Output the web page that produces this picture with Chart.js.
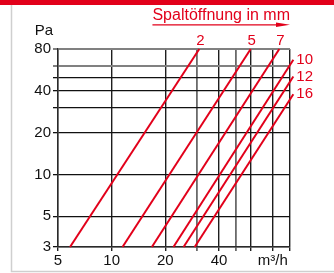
<!DOCTYPE html>
<html><head><meta charset="utf-8">
<script src="https://cdn.jsdelivr.net/npm/chart.js@4"></script>
<style>html,body{margin:0;padding:0;background:#fff;overflow:hidden}canvas{display:block}</style>
</head><body>
<canvas id="c" width="334" height="273"></canvas>
<script>
// ---- data ----
const gapLabels = ['2', '5', '7', '10', '12', '16'];          // Spaltöffnung in mm
const flowAt3Pa = [5.84, 11.5, 16.8, 22.2, 25.3, 29.2];       // m³/h at 3 Pa (line start)
const flowEnd = [31.0, 60.2, 87.1, 104.4, 104.4, 104.4];      // m³/h at line end
const pressureEnd = [80, 80, 80, 66.9, 50.7, 37.8];           // Pa at line end
const pressureStart = 3;
const xTicks = [5, 10, 20, 30, 40, 50, 60, 80, 100];
const xTickLabels = {5: '5', 10: '10', 20: '20', 40: '40', 80: 'm³/h'};
const yTicks = [3, 5, 10, 20, 30, 40, 50, 60, 80];
const yTickLabels = {3: '3', 5: '5', 10: '10', 20: '20', 40: '40', 80: '80'};
const yUnit = 'Pa';
const titleText = 'Spaltöffnung in mm';

const RED = '#e2001a';
const FONT = '"Liberation Sans", Arial, Helvetica, sans-serif';

const deco = {
  id: 'deco',
  beforeDraw(chart) {
    const c = chart.ctx;
    c.save();
    c.fillStyle = '#fff';
    c.fillRect(0, 0, chart.width, chart.height);
    c.fillStyle = RED;
    c.fillRect(0, 0, chart.width, 5);
    c.strokeStyle = '#cfcfcf';
    c.lineWidth = 1.5;
    c.beginPath();
    c.moveTo(11.5, 5); c.lineTo(11.5, 271.5); c.lineTo(chart.width, 271.5);
    c.stroke();
    c.restore();
  },
  afterDatasetsDraw(chart) {
    const c = chart.ctx;
    const area = chart.chartArea;
    const yMax = chart.scales.y.max;
    c.save();
    c.fillStyle = RED;
    c.font = '15px ' + FONT;
    gapLabels.forEach((g, i) => {
      const p = chart.getDatasetMeta(i).data[1];
      if (pressureEnd[i] >= yMax) {
        c.textAlign = 'center'; c.textBaseline = 'alphabetic';
        c.fillText(g, p.x + 1, p.y - 4);
      } else {
        c.textAlign = 'left'; c.textBaseline = 'middle';
        c.fillText(g, p.x + 3, p.y);
      }
    });
    // title with arrow
    c.font = '16px ' + FONT;
    c.textAlign = 'right'; c.textBaseline = 'alphabetic';
    c.fillText(titleText, area.right, 19.5);
    const w = c.measureText(titleText).width;
    const x0 = area.right - w;
    c.strokeStyle = RED; c.lineWidth = 1.3;
    c.beginPath(); c.moveTo(x0, 24.8); c.lineTo(area.right - 10, 24.8); c.stroke();
    c.beginPath();
    c.moveTo(area.right - 14, 22.5); c.lineTo(area.right, 24.8); c.lineTo(area.right - 14, 27.1);
    c.closePath(); c.fill();
    // y unit
    c.fillStyle = '#111';
    c.font = '15px ' + FONT;
    c.textAlign = 'center';
    c.fillText(yUnit, 44, 35);
    c.restore();
  }
};

function gridColorX(ctx) {
  const v = ctx.tick && ctx.tick.value;
  if (v === 30 || v === 50) return '#6a6a6a';
  return '#1e1e1e';
}
function gridWidthX(ctx) {
  const v = ctx.tick && ctx.tick.value;
  if (v === 30 || v === 50) return 1.8;
  return 1.4;
}
function gridColorY(ctx) {
  const v = ctx.tick && ctx.tick.value;
  if (v === 80 || v === 60) return '#808080';
  return '#111';
}
function gridWidthY(ctx) {
  const v = ctx.tick && ctx.tick.value;
  if (v === 80 || v === 60) return 2;
  return 1.3;
}

new Chart(document.getElementById('c'), {
  type: 'line',
  data: {
    datasets: gapLabels.map((g, i) => ({
      label: g,
      data: [{x: flowAt3Pa[i], y: pressureStart}, {x: flowEnd[i], y: pressureEnd[i]}],
      borderColor: RED,
      borderWidth: 2,
      pointRadius: 0,
      tension: 0,
      clip: false
    }))
  },
  options: {
    responsive: false,
    devicePixelRatio: 1,
    animation: false,
    layout: {padding: {top: 49, right: 44, left: 0, bottom: 0}},
    plugins: {legend: {display: false}, tooltip: {enabled: false}},
    scales: {
      x: {
        type: 'logarithmic', min: 5, max: 100,
        afterBuildTicks: s => { s.ticks = xTicks.map(v => ({value: v})); },
        afterFit: s => { s.height = 26; },
        ticks: {
          autoSkip: false, maxRotation: 0, padding: 1,
          color: '#111', font: {family: FONT, size: 15},
          callback: v => xTickLabels[v] ?? ''
        },
        grid: {color: gridColorX, lineWidth: gridWidthX, tickLength: 4, drawTicks: true},
        border: {display: true, color: '#2a2a2a', width: 1.4}
      },
      y: {
        type: 'logarithmic', min: 3, max: 80,
        afterBuildTicks: s => { s.ticks = yTicks.map(v => ({value: v})); },
        afterFit: s => { s.width = 58; },
        ticks: {
          autoSkip: false, padding: 2,
          color: '#111', font: {family: FONT, size: 15},
          callback: v => yTickLabels[v] ?? ''
        },
        grid: {color: gridColorY, lineWidth: gridWidthY, tickLength: 5, drawTicks: true},
        border: {display: true, color: '#2a2a2a', width: 1.4}
      }
    }
  },
  plugins: [deco]
});
</script>
</body></html>
